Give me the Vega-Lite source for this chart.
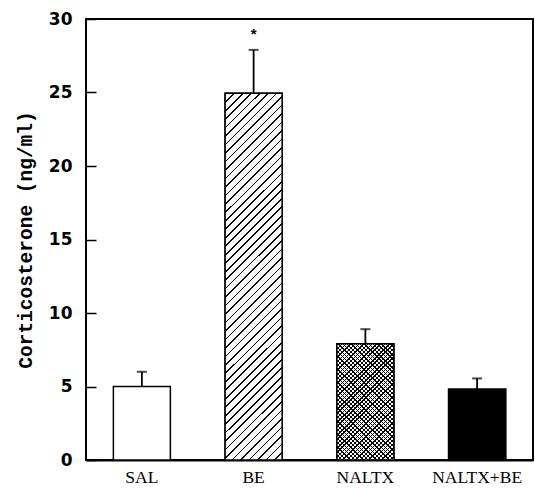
{
  "$schema": "https://vega.github.io/schema/vega-lite/v6.json",
  "width": 447,
  "height": 441,
  "autosize": {"type": "none"},
  "padding": {"left": 86, "top": 19, "right": 2, "bottom": 29},
  "background": "white",
  "data": {
    "values": [
      {"group": "SAL", "value": 5.0, "upper": 6.0, "sig": ""},
      {"group": "BE", "value": 24.95, "upper": 27.9, "sig": "*"},
      {"group": "NALTX", "value": 7.9, "upper": 8.9, "sig": ""},
      {"group": "NALTX+BE", "value": 4.82, "upper": 5.55, "sig": ""}
    ]
  },
  "encoding": {
    "x": {
      "field": "group", "type": "nominal", "sort": null,
      "scale": {"paddingInner": 0.49, "paddingOuter": 0.245},
      "axis": {"title": null, "labelAngle": 0, "ticks": false, "labelFont": "Liberation Serif", "labelFontSize": 17.5, "labelPadding": 8}
    },
    "y": {
      "field": "value", "type": "quantitative",
      "scale": {"domain": [0, 30], "nice": false},
      "axis": {"title": "Corticosterone (ng/ml)", "values": [0, 5, 10, 15, 20, 25, 30]}
    }
  },
  "layer": [
    {"mark": {"type": "bar", "fill": "white", "stroke": "black", "strokeWidth": 1.5}},
    {
      "transform": [{"filter": "datum.group === 'BE'"}],
      "mark": {"type": "bar", "stroke": "black", "strokeWidth": 1.5,
        "fill": {"gradient": "linear", "x1": 0, "y1": 0, "x2": 0.175, "y2": 1.128, "stops": [
{"offset":0,"color":"#000"},{"offset":0.004,"color":"#000"},{"offset":0.004,"color":"#fff"},{"offset":0.02,"color":"#fff"},
{"offset":0.02,"color":"#000"},{"offset":0.024,"color":"#000"},{"offset":0.024,"color":"#fff"},{"offset":0.04,"color":"#fff"},
{"offset":0.04,"color":"#000"},{"offset":0.044,"color":"#000"},{"offset":0.044,"color":"#fff"},{"offset":0.06,"color":"#fff"},
{"offset":0.06,"color":"#000"},{"offset":0.064,"color":"#000"},{"offset":0.064,"color":"#fff"},{"offset":0.08,"color":"#fff"},
{"offset":0.08,"color":"#000"},{"offset":0.084,"color":"#000"},{"offset":0.084,"color":"#fff"},{"offset":0.1,"color":"#fff"},
{"offset":0.1,"color":"#000"},{"offset":0.104,"color":"#000"},{"offset":0.104,"color":"#fff"},{"offset":0.12,"color":"#fff"},
{"offset":0.12,"color":"#000"},{"offset":0.124,"color":"#000"},{"offset":0.124,"color":"#fff"},{"offset":0.14,"color":"#fff"},
{"offset":0.14,"color":"#000"},{"offset":0.144,"color":"#000"},{"offset":0.144,"color":"#fff"},{"offset":0.16,"color":"#fff"},
{"offset":0.16,"color":"#000"},{"offset":0.164,"color":"#000"},{"offset":0.164,"color":"#fff"},{"offset":0.18,"color":"#fff"},
{"offset":0.18,"color":"#000"},{"offset":0.184,"color":"#000"},{"offset":0.184,"color":"#fff"},{"offset":0.2,"color":"#fff"},
{"offset":0.2,"color":"#000"},{"offset":0.204,"color":"#000"},{"offset":0.204,"color":"#fff"},{"offset":0.22,"color":"#fff"},
{"offset":0.22,"color":"#000"},{"offset":0.224,"color":"#000"},{"offset":0.224,"color":"#fff"},{"offset":0.24,"color":"#fff"},
{"offset":0.24,"color":"#000"},{"offset":0.244,"color":"#000"},{"offset":0.244,"color":"#fff"},{"offset":0.26,"color":"#fff"},
{"offset":0.26,"color":"#000"},{"offset":0.264,"color":"#000"},{"offset":0.264,"color":"#fff"},{"offset":0.28,"color":"#fff"},
{"offset":0.28,"color":"#000"},{"offset":0.284,"color":"#000"},{"offset":0.284,"color":"#fff"},{"offset":0.3,"color":"#fff"},
{"offset":0.3,"color":"#000"},{"offset":0.304,"color":"#000"},{"offset":0.304,"color":"#fff"},{"offset":0.32,"color":"#fff"},
{"offset":0.32,"color":"#000"},{"offset":0.324,"color":"#000"},{"offset":0.324,"color":"#fff"},{"offset":0.34,"color":"#fff"},
{"offset":0.34,"color":"#000"},{"offset":0.344,"color":"#000"},{"offset":0.344,"color":"#fff"},{"offset":0.36,"color":"#fff"},
{"offset":0.36,"color":"#000"},{"offset":0.364,"color":"#000"},{"offset":0.364,"color":"#fff"},{"offset":0.38,"color":"#fff"},
{"offset":0.38,"color":"#000"},{"offset":0.384,"color":"#000"},{"offset":0.384,"color":"#fff"},{"offset":0.4,"color":"#fff"},
{"offset":0.4,"color":"#000"},{"offset":0.404,"color":"#000"},{"offset":0.404,"color":"#fff"},{"offset":0.42,"color":"#fff"},
{"offset":0.42,"color":"#000"},{"offset":0.424,"color":"#000"},{"offset":0.424,"color":"#fff"},{"offset":0.44,"color":"#fff"},
{"offset":0.44,"color":"#000"},{"offset":0.444,"color":"#000"},{"offset":0.444,"color":"#fff"},{"offset":0.46,"color":"#fff"},
{"offset":0.46,"color":"#000"},{"offset":0.464,"color":"#000"},{"offset":0.464,"color":"#fff"},{"offset":0.48,"color":"#fff"},
{"offset":0.48,"color":"#000"},{"offset":0.484,"color":"#000"},{"offset":0.484,"color":"#fff"},{"offset":0.5,"color":"#fff"},
{"offset":0.5,"color":"#000"},{"offset":0.504,"color":"#000"},{"offset":0.504,"color":"#fff"},{"offset":0.52,"color":"#fff"},
{"offset":0.52,"color":"#000"},{"offset":0.524,"color":"#000"},{"offset":0.524,"color":"#fff"},{"offset":0.54,"color":"#fff"},
{"offset":0.54,"color":"#000"},{"offset":0.544,"color":"#000"},{"offset":0.544,"color":"#fff"},{"offset":0.56,"color":"#fff"},
{"offset":0.56,"color":"#000"},{"offset":0.564,"color":"#000"},{"offset":0.564,"color":"#fff"},{"offset":0.58,"color":"#fff"},
{"offset":0.58,"color":"#000"},{"offset":0.584,"color":"#000"},{"offset":0.584,"color":"#fff"},{"offset":0.6,"color":"#fff"},
{"offset":0.6,"color":"#000"},{"offset":0.604,"color":"#000"},{"offset":0.604,"color":"#fff"},{"offset":0.62,"color":"#fff"},
{"offset":0.62,"color":"#000"},{"offset":0.624,"color":"#000"},{"offset":0.624,"color":"#fff"},{"offset":0.64,"color":"#fff"},
{"offset":0.64,"color":"#000"},{"offset":0.644,"color":"#000"},{"offset":0.644,"color":"#fff"},{"offset":0.66,"color":"#fff"},
{"offset":0.66,"color":"#000"},{"offset":0.664,"color":"#000"},{"offset":0.664,"color":"#fff"},{"offset":0.68,"color":"#fff"},
{"offset":0.68,"color":"#000"},{"offset":0.684,"color":"#000"},{"offset":0.684,"color":"#fff"},{"offset":0.7,"color":"#fff"},
{"offset":0.7,"color":"#000"},{"offset":0.704,"color":"#000"},{"offset":0.704,"color":"#fff"},{"offset":0.72,"color":"#fff"},
{"offset":0.72,"color":"#000"},{"offset":0.724,"color":"#000"},{"offset":0.724,"color":"#fff"},{"offset":0.74,"color":"#fff"},
{"offset":0.74,"color":"#000"},{"offset":0.744,"color":"#000"},{"offset":0.744,"color":"#fff"},{"offset":0.76,"color":"#fff"},
{"offset":0.76,"color":"#000"},{"offset":0.764,"color":"#000"},{"offset":0.764,"color":"#fff"},{"offset":0.78,"color":"#fff"},
{"offset":0.78,"color":"#000"},{"offset":0.784,"color":"#000"},{"offset":0.784,"color":"#fff"},{"offset":0.8,"color":"#fff"},
{"offset":0.8,"color":"#000"},{"offset":0.804,"color":"#000"},{"offset":0.804,"color":"#fff"},{"offset":0.82,"color":"#fff"},
{"offset":0.82,"color":"#000"},{"offset":0.824,"color":"#000"},{"offset":0.824,"color":"#fff"},{"offset":0.84,"color":"#fff"},
{"offset":0.84,"color":"#000"},{"offset":0.844,"color":"#000"},{"offset":0.844,"color":"#fff"},{"offset":0.86,"color":"#fff"},
{"offset":0.86,"color":"#000"},{"offset":0.864,"color":"#000"},{"offset":0.864,"color":"#fff"},{"offset":0.88,"color":"#fff"},
{"offset":0.88,"color":"#000"},{"offset":0.884,"color":"#000"},{"offset":0.884,"color":"#fff"},{"offset":0.9,"color":"#fff"},
{"offset":0.9,"color":"#000"},{"offset":0.904,"color":"#000"},{"offset":0.904,"color":"#fff"},{"offset":0.92,"color":"#fff"},
{"offset":0.92,"color":"#000"},{"offset":0.924,"color":"#000"},{"offset":0.924,"color":"#fff"},{"offset":0.94,"color":"#fff"},
{"offset":0.94,"color":"#000"},{"offset":0.944,"color":"#000"},{"offset":0.944,"color":"#fff"},{"offset":0.96,"color":"#fff"},
{"offset":0.96,"color":"#000"},{"offset":0.964,"color":"#000"},{"offset":0.964,"color":"#fff"},{"offset":0.98,"color":"#fff"},
{"offset":0.98,"color":"#000"},{"offset":0.984,"color":"#000"},{"offset":0.984,"color":"#fff"},{"offset":1,"color":"#fff"}
        ]}}
    },
    {
      "transform": [{"filter": "datum.group === 'NALTX'"}],
      "mark": {"type": "bar", "strokeWidth": 0,
        "fill": {"gradient": "linear", "x1": 0, "y1": 1, "x2": 0.59, "y2": -0.201, "stops": [
{"offset":0,"color":"#000"},{"offset":0.008,"color":"#000"},{"offset":0.008,"color":"#fff"},{"offset":0.025,"color":"#fff"},
{"offset":0.025,"color":"#000"},{"offset":0.033,"color":"#000"},{"offset":0.033,"color":"#fff"},{"offset":0.05,"color":"#fff"},
{"offset":0.05,"color":"#000"},{"offset":0.058,"color":"#000"},{"offset":0.058,"color":"#fff"},{"offset":0.075,"color":"#fff"},
{"offset":0.075,"color":"#000"},{"offset":0.083,"color":"#000"},{"offset":0.083,"color":"#fff"},{"offset":0.1,"color":"#fff"},
{"offset":0.1,"color":"#000"},{"offset":0.108,"color":"#000"},{"offset":0.108,"color":"#fff"},{"offset":0.125,"color":"#fff"},
{"offset":0.125,"color":"#000"},{"offset":0.133,"color":"#000"},{"offset":0.133,"color":"#fff"},{"offset":0.15,"color":"#fff"},
{"offset":0.15,"color":"#000"},{"offset":0.158,"color":"#000"},{"offset":0.158,"color":"#fff"},{"offset":0.175,"color":"#fff"},
{"offset":0.175,"color":"#000"},{"offset":0.183,"color":"#000"},{"offset":0.183,"color":"#fff"},{"offset":0.2,"color":"#fff"},
{"offset":0.2,"color":"#000"},{"offset":0.208,"color":"#000"},{"offset":0.208,"color":"#fff"},{"offset":0.225,"color":"#fff"},
{"offset":0.225,"color":"#000"},{"offset":0.233,"color":"#000"},{"offset":0.233,"color":"#fff"},{"offset":0.25,"color":"#fff"},
{"offset":0.25,"color":"#000"},{"offset":0.258,"color":"#000"},{"offset":0.258,"color":"#fff"},{"offset":0.275,"color":"#fff"},
{"offset":0.275,"color":"#000"},{"offset":0.283,"color":"#000"},{"offset":0.283,"color":"#fff"},{"offset":0.3,"color":"#fff"},
{"offset":0.3,"color":"#000"},{"offset":0.308,"color":"#000"},{"offset":0.308,"color":"#fff"},{"offset":0.325,"color":"#fff"},
{"offset":0.325,"color":"#000"},{"offset":0.333,"color":"#000"},{"offset":0.333,"color":"#fff"},{"offset":0.35,"color":"#fff"},
{"offset":0.35,"color":"#000"},{"offset":0.358,"color":"#000"},{"offset":0.358,"color":"#fff"},{"offset":0.375,"color":"#fff"},
{"offset":0.375,"color":"#000"},{"offset":0.383,"color":"#000"},{"offset":0.383,"color":"#fff"},{"offset":0.4,"color":"#fff"},
{"offset":0.4,"color":"#000"},{"offset":0.408,"color":"#000"},{"offset":0.408,"color":"#fff"},{"offset":0.425,"color":"#fff"},
{"offset":0.425,"color":"#000"},{"offset":0.433,"color":"#000"},{"offset":0.433,"color":"#fff"},{"offset":0.45,"color":"#fff"},
{"offset":0.45,"color":"#000"},{"offset":0.458,"color":"#000"},{"offset":0.458,"color":"#fff"},{"offset":0.475,"color":"#fff"},
{"offset":0.475,"color":"#000"},{"offset":0.483,"color":"#000"},{"offset":0.483,"color":"#fff"},{"offset":0.5,"color":"#fff"},
{"offset":0.5,"color":"#000"},{"offset":0.508,"color":"#000"},{"offset":0.508,"color":"#fff"},{"offset":0.525,"color":"#fff"},
{"offset":0.525,"color":"#000"},{"offset":0.533,"color":"#000"},{"offset":0.533,"color":"#fff"},{"offset":0.55,"color":"#fff"},
{"offset":0.55,"color":"#000"},{"offset":0.558,"color":"#000"},{"offset":0.558,"color":"#fff"},{"offset":0.575,"color":"#fff"},
{"offset":0.575,"color":"#000"},{"offset":0.583,"color":"#000"},{"offset":0.583,"color":"#fff"},{"offset":0.6,"color":"#fff"},
{"offset":0.6,"color":"#000"},{"offset":0.608,"color":"#000"},{"offset":0.608,"color":"#fff"},{"offset":0.625,"color":"#fff"},
{"offset":0.625,"color":"#000"},{"offset":0.633,"color":"#000"},{"offset":0.633,"color":"#fff"},{"offset":0.65,"color":"#fff"},
{"offset":0.65,"color":"#000"},{"offset":0.658,"color":"#000"},{"offset":0.658,"color":"#fff"},{"offset":0.675,"color":"#fff"},
{"offset":0.675,"color":"#000"},{"offset":0.683,"color":"#000"},{"offset":0.683,"color":"#fff"},{"offset":0.7,"color":"#fff"},
{"offset":0.7,"color":"#000"},{"offset":0.708,"color":"#000"},{"offset":0.708,"color":"#fff"},{"offset":0.725,"color":"#fff"},
{"offset":0.725,"color":"#000"},{"offset":0.733,"color":"#000"},{"offset":0.733,"color":"#fff"},{"offset":0.75,"color":"#fff"},
{"offset":0.75,"color":"#000"},{"offset":0.758,"color":"#000"},{"offset":0.758,"color":"#fff"},{"offset":0.775,"color":"#fff"},
{"offset":0.775,"color":"#000"},{"offset":0.783,"color":"#000"},{"offset":0.783,"color":"#fff"},{"offset":0.8,"color":"#fff"},
{"offset":0.8,"color":"#000"},{"offset":0.808,"color":"#000"},{"offset":0.808,"color":"#fff"},{"offset":0.825,"color":"#fff"},
{"offset":0.825,"color":"#000"},{"offset":0.833,"color":"#000"},{"offset":0.833,"color":"#fff"},{"offset":0.85,"color":"#fff"},
{"offset":0.85,"color":"#000"},{"offset":0.858,"color":"#000"},{"offset":0.858,"color":"#fff"},{"offset":0.875,"color":"#fff"},
{"offset":0.875,"color":"#000"},{"offset":0.883,"color":"#000"},{"offset":0.883,"color":"#fff"},{"offset":0.9,"color":"#fff"},
{"offset":0.9,"color":"#000"},{"offset":0.908,"color":"#000"},{"offset":0.908,"color":"#fff"},{"offset":0.925,"color":"#fff"},
{"offset":0.925,"color":"#000"},{"offset":0.933,"color":"#000"},{"offset":0.933,"color":"#fff"},{"offset":0.95,"color":"#fff"},
{"offset":0.95,"color":"#000"},{"offset":0.958,"color":"#000"},{"offset":0.958,"color":"#fff"},{"offset":0.975,"color":"#fff"},
{"offset":0.975,"color":"#000"},{"offset":0.983,"color":"#000"},{"offset":0.983,"color":"#fff"},{"offset":1,"color":"#fff"}
        ]}}
    },
    {
      "transform": [{"filter": "datum.group === 'NALTX'"}],
      "mark": {"type": "bar", "stroke": "black", "strokeWidth": 1.5,
        "fill": {"gradient": "linear", "x1": 0, "y1": 0, "x2": 0.59, "y2": 1.201, "stops": [
{"offset":0,"color":"#000"},{"offset":0.008,"color":"#000"},{"offset":0.008,"color":"rgba(0,0,0,0)"},{"offset":0.025,"color":"rgba(0,0,0,0)"},
{"offset":0.025,"color":"#000"},{"offset":0.033,"color":"#000"},{"offset":0.033,"color":"rgba(0,0,0,0)"},{"offset":0.05,"color":"rgba(0,0,0,0)"},
{"offset":0.05,"color":"#000"},{"offset":0.058,"color":"#000"},{"offset":0.058,"color":"rgba(0,0,0,0)"},{"offset":0.075,"color":"rgba(0,0,0,0)"},
{"offset":0.075,"color":"#000"},{"offset":0.083,"color":"#000"},{"offset":0.083,"color":"rgba(0,0,0,0)"},{"offset":0.1,"color":"rgba(0,0,0,0)"},
{"offset":0.1,"color":"#000"},{"offset":0.108,"color":"#000"},{"offset":0.108,"color":"rgba(0,0,0,0)"},{"offset":0.125,"color":"rgba(0,0,0,0)"},
{"offset":0.125,"color":"#000"},{"offset":0.133,"color":"#000"},{"offset":0.133,"color":"rgba(0,0,0,0)"},{"offset":0.15,"color":"rgba(0,0,0,0)"},
{"offset":0.15,"color":"#000"},{"offset":0.158,"color":"#000"},{"offset":0.158,"color":"rgba(0,0,0,0)"},{"offset":0.175,"color":"rgba(0,0,0,0)"},
{"offset":0.175,"color":"#000"},{"offset":0.183,"color":"#000"},{"offset":0.183,"color":"rgba(0,0,0,0)"},{"offset":0.2,"color":"rgba(0,0,0,0)"},
{"offset":0.2,"color":"#000"},{"offset":0.208,"color":"#000"},{"offset":0.208,"color":"rgba(0,0,0,0)"},{"offset":0.225,"color":"rgba(0,0,0,0)"},
{"offset":0.225,"color":"#000"},{"offset":0.233,"color":"#000"},{"offset":0.233,"color":"rgba(0,0,0,0)"},{"offset":0.25,"color":"rgba(0,0,0,0)"},
{"offset":0.25,"color":"#000"},{"offset":0.258,"color":"#000"},{"offset":0.258,"color":"rgba(0,0,0,0)"},{"offset":0.275,"color":"rgba(0,0,0,0)"},
{"offset":0.275,"color":"#000"},{"offset":0.283,"color":"#000"},{"offset":0.283,"color":"rgba(0,0,0,0)"},{"offset":0.3,"color":"rgba(0,0,0,0)"},
{"offset":0.3,"color":"#000"},{"offset":0.308,"color":"#000"},{"offset":0.308,"color":"rgba(0,0,0,0)"},{"offset":0.325,"color":"rgba(0,0,0,0)"},
{"offset":0.325,"color":"#000"},{"offset":0.333,"color":"#000"},{"offset":0.333,"color":"rgba(0,0,0,0)"},{"offset":0.35,"color":"rgba(0,0,0,0)"},
{"offset":0.35,"color":"#000"},{"offset":0.358,"color":"#000"},{"offset":0.358,"color":"rgba(0,0,0,0)"},{"offset":0.375,"color":"rgba(0,0,0,0)"},
{"offset":0.375,"color":"#000"},{"offset":0.383,"color":"#000"},{"offset":0.383,"color":"rgba(0,0,0,0)"},{"offset":0.4,"color":"rgba(0,0,0,0)"},
{"offset":0.4,"color":"#000"},{"offset":0.408,"color":"#000"},{"offset":0.408,"color":"rgba(0,0,0,0)"},{"offset":0.425,"color":"rgba(0,0,0,0)"},
{"offset":0.425,"color":"#000"},{"offset":0.433,"color":"#000"},{"offset":0.433,"color":"rgba(0,0,0,0)"},{"offset":0.45,"color":"rgba(0,0,0,0)"},
{"offset":0.45,"color":"#000"},{"offset":0.458,"color":"#000"},{"offset":0.458,"color":"rgba(0,0,0,0)"},{"offset":0.475,"color":"rgba(0,0,0,0)"},
{"offset":0.475,"color":"#000"},{"offset":0.483,"color":"#000"},{"offset":0.483,"color":"rgba(0,0,0,0)"},{"offset":0.5,"color":"rgba(0,0,0,0)"},
{"offset":0.5,"color":"#000"},{"offset":0.508,"color":"#000"},{"offset":0.508,"color":"rgba(0,0,0,0)"},{"offset":0.525,"color":"rgba(0,0,0,0)"},
{"offset":0.525,"color":"#000"},{"offset":0.533,"color":"#000"},{"offset":0.533,"color":"rgba(0,0,0,0)"},{"offset":0.55,"color":"rgba(0,0,0,0)"},
{"offset":0.55,"color":"#000"},{"offset":0.558,"color":"#000"},{"offset":0.558,"color":"rgba(0,0,0,0)"},{"offset":0.575,"color":"rgba(0,0,0,0)"},
{"offset":0.575,"color":"#000"},{"offset":0.583,"color":"#000"},{"offset":0.583,"color":"rgba(0,0,0,0)"},{"offset":0.6,"color":"rgba(0,0,0,0)"},
{"offset":0.6,"color":"#000"},{"offset":0.608,"color":"#000"},{"offset":0.608,"color":"rgba(0,0,0,0)"},{"offset":0.625,"color":"rgba(0,0,0,0)"},
{"offset":0.625,"color":"#000"},{"offset":0.633,"color":"#000"},{"offset":0.633,"color":"rgba(0,0,0,0)"},{"offset":0.65,"color":"rgba(0,0,0,0)"},
{"offset":0.65,"color":"#000"},{"offset":0.658,"color":"#000"},{"offset":0.658,"color":"rgba(0,0,0,0)"},{"offset":0.675,"color":"rgba(0,0,0,0)"},
{"offset":0.675,"color":"#000"},{"offset":0.683,"color":"#000"},{"offset":0.683,"color":"rgba(0,0,0,0)"},{"offset":0.7,"color":"rgba(0,0,0,0)"},
{"offset":0.7,"color":"#000"},{"offset":0.708,"color":"#000"},{"offset":0.708,"color":"rgba(0,0,0,0)"},{"offset":0.725,"color":"rgba(0,0,0,0)"},
{"offset":0.725,"color":"#000"},{"offset":0.733,"color":"#000"},{"offset":0.733,"color":"rgba(0,0,0,0)"},{"offset":0.75,"color":"rgba(0,0,0,0)"},
{"offset":0.75,"color":"#000"},{"offset":0.758,"color":"#000"},{"offset":0.758,"color":"rgba(0,0,0,0)"},{"offset":0.775,"color":"rgba(0,0,0,0)"},
{"offset":0.775,"color":"#000"},{"offset":0.783,"color":"#000"},{"offset":0.783,"color":"rgba(0,0,0,0)"},{"offset":0.8,"color":"rgba(0,0,0,0)"},
{"offset":0.8,"color":"#000"},{"offset":0.808,"color":"#000"},{"offset":0.808,"color":"rgba(0,0,0,0)"},{"offset":0.825,"color":"rgba(0,0,0,0)"},
{"offset":0.825,"color":"#000"},{"offset":0.833,"color":"#000"},{"offset":0.833,"color":"rgba(0,0,0,0)"},{"offset":0.85,"color":"rgba(0,0,0,0)"},
{"offset":0.85,"color":"#000"},{"offset":0.858,"color":"#000"},{"offset":0.858,"color":"rgba(0,0,0,0)"},{"offset":0.875,"color":"rgba(0,0,0,0)"},
{"offset":0.875,"color":"#000"},{"offset":0.883,"color":"#000"},{"offset":0.883,"color":"rgba(0,0,0,0)"},{"offset":0.9,"color":"rgba(0,0,0,0)"},
{"offset":0.9,"color":"#000"},{"offset":0.908,"color":"#000"},{"offset":0.908,"color":"rgba(0,0,0,0)"},{"offset":0.925,"color":"rgba(0,0,0,0)"},
{"offset":0.925,"color":"#000"},{"offset":0.933,"color":"#000"},{"offset":0.933,"color":"rgba(0,0,0,0)"},{"offset":0.95,"color":"rgba(0,0,0,0)"},
{"offset":0.95,"color":"#000"},{"offset":0.958,"color":"#000"},{"offset":0.958,"color":"rgba(0,0,0,0)"},{"offset":0.975,"color":"rgba(0,0,0,0)"},
{"offset":0.975,"color":"#000"},{"offset":0.983,"color":"#000"},{"offset":0.983,"color":"rgba(0,0,0,0)"},{"offset":1,"color":"rgba(0,0,0,0)"}
        ]}}
    },
    {
      "transform": [{"filter": "datum.group === 'NALTX+BE'"}],
      "mark": {"type": "bar", "fill": "black", "stroke": "black", "strokeWidth": 1.5}
    },
    {
      "mark": {"type": "rule", "color": "black", "strokeWidth": 1.8},
      "encoding": {"y2": {"field": "upper"}}
    },
    {
      "mark": {"type": "tick", "color": "black", "size": 10, "thickness": 2},
      "encoding": {"y": {"field": "upper", "type": "quantitative", "title": "Corticosterone (ng/ml)"}}
    },
    {
      "mark": {"type": "text", "font": "Liberation Sans", "fontSize": 15, "fontWeight": "bold", "baseline": "middle", "dy": -16, "color": "black"},
      "encoding": {
        "y": {"field": "upper", "type": "quantitative", "title": "Corticosterone (ng/ml)"},
        "text": {"field": "sig"}
      }
    }
  ],
  "config": {
    "view": {"stroke": "black", "strokeWidth": 2, "fill": null},
    "axis": {"domainColor": "black", "domainWidth": 2, "labelColor": "black", "titleColor": "black", "grid": false},
    "axisY": {
      "zindex": 1, "offset": -10, "domain": false,
      "ticks": true, "tickSize": 10, "tickWidth": 1.5, "tickColor": "black", "tickOpacity": 1, "labelPadding": 14,
      "labelFont": "DejaVu Sans", "labelFontWeight": "bold", "labelFontSize": 17,
      "titleFont": "Liberation Mono", "titleFontWeight": "bold", "titleFontSize": 19.5,
      "titleAngle": -90, "titleX": -71, "titleY": 220.5, "titleAlign": "center", "titleBaseline": "middle"
    }
  }
}
